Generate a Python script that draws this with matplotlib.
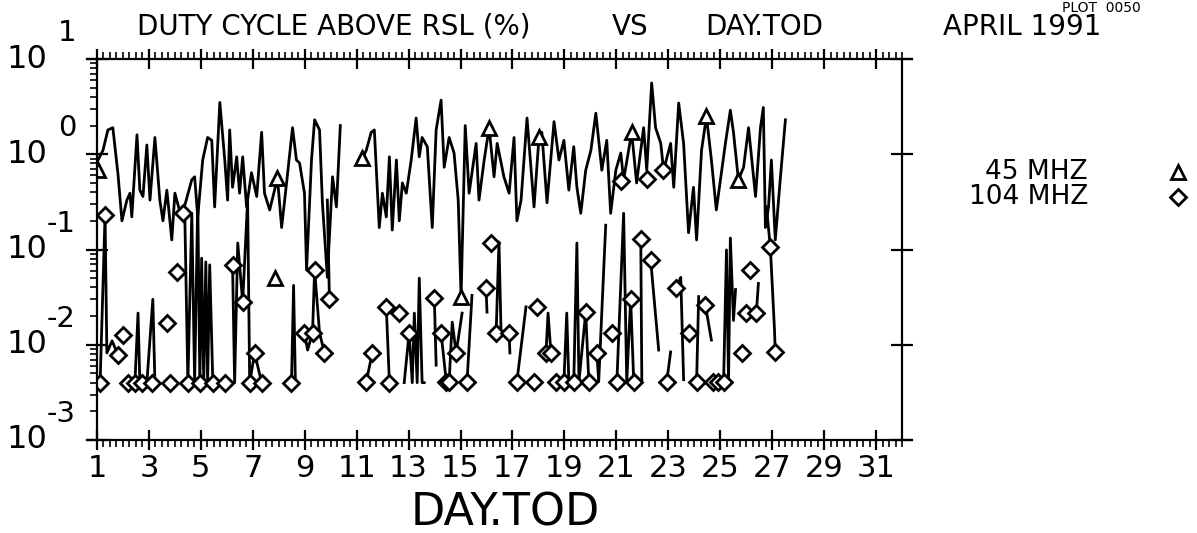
import numpy as np
import matplotlib
matplotlib.use('Agg')
import matplotlib.pyplot as plt
import matplotlib.transforms as mtransforms
from matplotlib.ticker import FixedLocator, MultipleLocator, LogLocator, NullFormatter
from matplotlib.lines import Line2D

nan = np.nan

# 45 MHz duty cycle (line), nan = gap in record
day45 = [1.04, 1.23, 1.42, 1.61, 1.81, 1.96, 2.15, 2.27, 2.34, 2.54, 2.65, 2.77, 2.92, 3.04,
         3.23, 3.42, 3.54, 3.69, 3.88, 4.00, 4.19, 4.38, 4.65, 4.76, 4.88, 5.07, 5.26, 5.42,
         5.53, 5.73, 5.92, 6.03, 6.11, 6.22, 6.38, 6.49, 6.61, 6.76, 6.95, 7.15, 7.34, 7.45,
         7.65, 7.95, 8.11, 8.30, 8.53, 8.68, 8.80, 8.99, 9.07, 9.26, 9.38, 9.57, 9.68, 9.87,
         10.07, 10.22, 10.37, nan,
         11.22, 11.37, 11.56, 11.68, 11.87, 11.99, 12.14, 12.26, 12.37, 12.53, 12.64, 12.76,
         12.91, 13.10, 13.29, 13.41, 13.52, 13.72, 13.91, 14.06, 14.25, 14.37, 14.56, 14.75,
         14.91, 15.02, 15.18, 15.33, 15.60, 15.71, 15.91, 16.10, 16.29, 16.41, 16.67, 16.87,
         17.06, 17.17, 17.33, 17.56, 17.83, 18.02, 18.13, 18.33, 18.60, 18.79, 18.98, 19.17,
         19.36, 19.48, 19.63, 19.82, 20.02, 20.21, 20.32, 20.44, 20.63, 20.78, 20.98, 21.17,
         21.28, 21.59, 21.78, 22.05, 22.17, 22.36, 22.51, 22.71, 22.82, 23.09, 23.21, 23.40,
         23.59, 23.78, 23.97, 24.09, 24.28, 24.47, 24.66, 24.85, 25.20, 25.39, 25.51, 25.70,
         25.90, 26.09, 26.36, 26.55, 26.66, 26.74, 26.86, 26.97, 27.12, 27.32, 27.51]
val45 = [0.87, 1.1, 1.8, 1.9, 0.61, 0.20, 0.33, 0.39, 0.22, 1.6, 0.42, 0.36, 1.25, 0.33,
         1.5, 0.33, 0.20, 0.42, 0.126, 0.39, 0.25, 0.29, 0.54, 0.58, 0.22, 0.87, 1.5, 1.4,
         0.28, 3.5, 0.87, 0.33, 1.8, 0.45, 0.94, 0.39, 0.94, 0.28, 0.64, 0.36, 1.7, 0.39,
         0.26, 0.56, 0.17, 0.50, 1.9, 0.87, 0.81, 0.39, 0.061, 0.87, 2.3, 1.8, 0.31, 0.051,
         0.58, 0.28, 2.0, nan,
         0.91, 1.1, 1.7, 1.8, 0.17, 0.39, 0.22, 0.94, 0.16, 0.87, 0.20, 0.50,
         0.39, 0.87, 2.4, 0.94, 1.5, 1.2, 0.17, 1.8, 3.7, 0.73, 1.5, 1.03,
         0.33, 0.032, 2.0, 0.39, 1.3, 0.33, 0.87, 1.9, 0.58, 1.3, 0.58, 0.39,
         1.5, 0.20, 0.33, 2.4, 0.28, 1.5, 1.7, 0.31, 2.2, 0.87, 1.4, 0.42,
         1.2, 0.45, 0.24, 0.68, 1.1, 2.7, 1.4, 0.68, 1.4, 0.24, 0.68, 1.03,
         0.54, 1.7, 0.50, 1.9, 0.68, 5.6, 1.9, 1.3, 0.68, 1.3, 0.45, 3.45,
         1.3, 0.15, 0.45, 0.126, 1.1, 2.5, 0.87, 0.26, 1.3, 2.9, 1.7, 0.54,
         0.73, 1.9, 0.36, 1.9, 3.1, 0.17, 0.28, 0.87, 0.126, 0.58, 2.3]

# 45 MHz plotted symbols
tri_day = [1.04, 7.84, 7.95, 11.22, 15.02, 16.10, 18.02, 21.59, 24.47, 25.70]
tri_val = [0.68, 0.050, 0.56, 0.91, 0.032, 1.9, 1.5, 1.7, 2.5, 0.54]

# 104 MHz duty cycle (line), nan = gap
day104 = [1.12, 1.31, 1.38, 1.58, 1.81, nan,
          2.19, 2.46, 2.58, 2.65, 2.92, 3.15, 3.23, nan,
          4.38, 4.50, 4.65, 4.76, 4.88, 4.96, 5.03, 5.11, 5.19, 5.26, 5.34, 5.46, 5.92, nan,
          6.22, 6.30, 6.42, 6.61, 6.80, 6.88, 7.07, 7.34, nan,
          8.49, 8.57, 8.64, nan,
          8.99, 9.11, 9.30, 9.38, 9.57, 9.76, nan,
          9.87, 9.95, nan,
          11.37, 11.60, nan,
          12.14, 12.26, nan,
          12.83, 13.02, 13.14, 13.22, 13.33, 13.41, 13.52, 13.60, nan,
          13.99, 14.06, nan,
          14.25, 14.45, 14.56, 14.68, 14.83, 15.06, nan,
          15.25, 15.44, nan,
          15.98, 16.02, nan,
          16.37, 16.48, 16.56, 16.87, 16.90, nan,
          17.17, 17.52, nan,
          18.29, 18.37, 18.48, nan,
          18.67, 18.98, 19.09, 19.17, 19.36, 19.48, 19.56, 19.82, 19.94, nan,
          20.25, 20.32, 20.59, nan,
          21.02, 21.28, 21.40, 21.55, 21.67, nan,
          21.94, 21.98, nan,
          22.32, 22.63, nan,
          22.94, 23.09, nan,
          23.29, 23.48, 23.59, nan,
          24.09, 24.17, nan,
          24.43, 24.66, nan,
          24.74, 24.93, 25.13, 25.24, 25.32, 25.39, 25.51, 25.59, nan,
          26.01, 26.39, 26.47, nan,
          26.78, 26.93, 27.09, 27.12]
val104 = [0.0040, 0.23, 0.0082, 0.011, 0.0078, nan,
          0.0040, 0.0040, 0.0215, 0.0040, 0.0040, 0.030, 0.0040, nan,
          0.24, 0.0040, 0.24, 0.0040, 0.33, 0.0040, 0.081, 0.0040, 0.074, 0.0040, 0.069, 0.0040, 0.0040, nan,
          0.069, 0.0040, 0.117, 0.028, 0.33, 0.0040, 0.0082, 0.0040, nan,
          0.0040, 0.042, 0.0040, nan,
          0.0133, 0.0088, 0.0133, 0.061, 0.0133, 0.0082, nan,
          0.33, 0.030, nan,
          0.0041, 0.0082, nan,
          0.025, 0.0040, nan,
          0.0040, 0.0133, 0.0040, 0.0215, 0.0040, 0.050, 0.0040, 0.0040, nan,
          0.031, 0.0061, nan,
          0.0133, 0.0041, 0.0041, 0.0173, 0.0082, 0.0215, nan,
          0.0041, 0.033, nan,
          0.039, 0.022, nan,
          0.0133, 0.12, 0.0133, 0.0133, 0.0082, nan,
          0.0041, 0.025, nan,
          0.0082, 0.0215, 0.0082, nan,
          0.0041, 0.0041, 0.0215, 0.0041, 0.0041, 0.117, 0.0041, 0.022, 0.0041, nan,
          0.0082, 0.0041, 0.18, nan,
          0.0041, 0.24, 0.0041, 0.030, 0.0041, nan,
          0.13, 0.0043, nan,
          0.078, 0.0088, nan,
          0.0041, 0.0084, nan,
          0.039, 0.051, 0.0043, nan,
          0.0041, 0.032, nan,
          0.026, 0.0112, nan,
          0.0041, 0.0041, 0.0041, 0.099, 0.0041, 0.132, 0.018, 0.038, nan,
          0.0215, 0.0215, 0.044, nan,
          0.28, 0.106, 0.0143, 0.0083]

# 104 MHz plotted symbols
dia_day = [1.12, 1.31, 1.81, 2.00, 2.19, 2.46, 2.73, 3.11, 3.69, 3.80, 4.07, 4.30, 4.50, 4.96,
           5.46, 5.92, 6.22, 6.61, 6.88, 7.07, 7.34, 8.49, 8.99, 9.30, 9.38, 9.76, 9.95,
           11.37, 11.60, 12.14, 12.26, 12.64, 13.02, 13.99, 14.25, 14.45, 14.56, 14.83, 15.25,
           15.98, 16.17, 16.37, 16.87, 17.17, 17.83, 17.94, 18.29, 18.48, 18.67, 18.98, 19.36,
           19.82, 19.94, 20.25, 20.82, 21.02, 21.17, 21.55, 21.67, 21.94, 22.17, 22.32, 22.79,
           22.94, 23.29, 23.78, 24.09, 24.43, 24.74, 24.93, 25.13, 25.82, 26.01, 26.16, 26.39,
           26.93, 27.12]
dia_val = [0.0040, 0.23, 0.0078, 0.0126, 0.0040, 0.0040, 0.0040, 0.0040, 0.0169, 0.0040, 0.058,
           0.24, 0.0040, 0.0040, 0.0040, 0.0040, 0.069, 0.028, 0.0040, 0.0082, 0.0040, 0.0040,
           0.0133, 0.0133, 0.061, 0.0082, 0.030, 0.0041, 0.0082, 0.025, 0.0040, 0.0215, 0.0133,
           0.031, 0.0133, 0.0041, 0.0041, 0.0082, 0.0041, 0.039, 0.117, 0.0133, 0.0133, 0.0041,
           0.0041, 0.025, 0.0082, 0.0082, 0.0041, 0.0041, 0.0041, 0.022, 0.0041, 0.0082, 0.0133,
           0.0041, 0.52, 0.030, 0.0041, 0.13, 0.55, 0.078, 0.68, 0.0041, 0.039, 0.0133, 0.0041,
           0.026, 0.0041, 0.0041, 0.0041, 0.0082, 0.0215, 0.061, 0.0215, 0.106, 0.0083]

day_ticks = list(range(1, 32, 2))
decades = [1, 0, -1, -2, -3]

font = 'DejaVu Sans'
W, H = 1197, 533

fig = plt.figure(figsize=(W / 100, H / 100), dpi=100)
ax = fig.add_axes([97 / W, 1 - 440 / H, 805 / W, 381 / H])

ax.plot(day45, val45, color='k', lw=2.0)
ax.plot(day104, val104, color='k', lw=2.0)
ax.plot(tri_day, tri_val, ls='none', marker='^', ms=10, mfc='white', mec='k', mew=2)
ax.plot(dia_day, dia_val, ls='none', marker='D', ms=8, mfc='white', mec='k', mew=2)

ax.set_yscale('log')
ax.set_ylim(1e-3, 1e1)
ax.set_xlim(1, 32)

for s in ax.spines.values():
    s.set_linewidth(1.6)
ax.spines['bottom'].set_bounds(0.62, 32.38)
ax.spines['top'].set_bounds(0.62, 32.38)

ax.xaxis.set_major_locator(FixedLocator(day_ticks))
ax.xaxis.set_minor_locator(MultipleLocator(0.25))
ax.set_xticklabels([str(d) for d in day_ticks], fontsize=22, family=font)
ax.tick_params(axis='x', which='major', top=True, direction='inout', length=14, width=1.6, pad=3)
ax.tick_params(axis='x', which='minor', top=True, direction='out', length=5, width=1.2)

ax.yaxis.set_major_locator(LogLocator(base=10, numticks=10))
ax.yaxis.set_minor_locator(LogLocator(base=10, subs=np.arange(2, 10), numticks=10))
ax.yaxis.set_major_formatter(NullFormatter())
ax.yaxis.set_minor_formatter(NullFormatter())
ax.tick_params(axis='y', which='major', left=True, right=True, direction='inout', length=16, width=1.6)
ax.tick_params(axis='y', which='minor', left=True, right=False, direction='out', length=5, width=1.2)

# y labels in the plotter's "10 with exponent" style
trans = mtransforms.blended_transform_factory(fig.transFigure, ax.transData)
for e in decades:
    ax.text(27 / W, 10.0 ** e, '10', transform=trans, ha='center', va='center',
            fontsize=23, family=font, clip_on=False)
    ax.text(76 / W, 10.0 ** e, str(e), ha='right', va='center', fontsize=21, family=font,
            transform=mtransforms.offset_copy(trans, fig=fig, y=26, units='dots'), clip_on=False)

fig.text(137 / W, 1 - 27 / H, 'DUTY CYCLE ABOVE RSL (%)', ha='left', va='center', fontsize=20, family=font)
fig.text(630 / W, 1 - 27 / H, 'VS', ha='center', va='center', fontsize=20, family=font)
fig.text(705 / W, 1 - 27 / H, 'DAY.TOD', ha='left', va='center', fontsize=20, family=font)
fig.text(943 / W, 1 - 27 / H, 'APRIL 1991', ha='left', va='center', fontsize=20, family=font)
fig.text(1062 / W, 1 - 1 / H, 'PLOT  0050', ha='left', va='top', fontsize=10, family=font)

fig.text(505 / W, 1 - 513 / H, 'DAY.TOD', ha='center', va='center', fontsize=32, family=font)

# legend
fig.text(1088 / W, 1 - 172 / H, '45 MHZ', ha='right', va='center', fontsize=19, family=font)
fig.text(1088 / W, 1 - 197 / H, '104 MHZ', ha='right', va='center', fontsize=19, family=font)
fig.add_artist(Line2D([1178 / W], [1 - 172 / H], transform=fig.transFigure, marker='^', ms=10,
                      mfc='white', mec='k', mew=2, ls='none'))
fig.add_artist(Line2D([1178 / W], [1 - 197 / H], transform=fig.transFigure, marker='D', ms=8,
                      mfc='white', mec='k', mew=2, ls='none'))

fig.savefig('out.png', dpi=100)
